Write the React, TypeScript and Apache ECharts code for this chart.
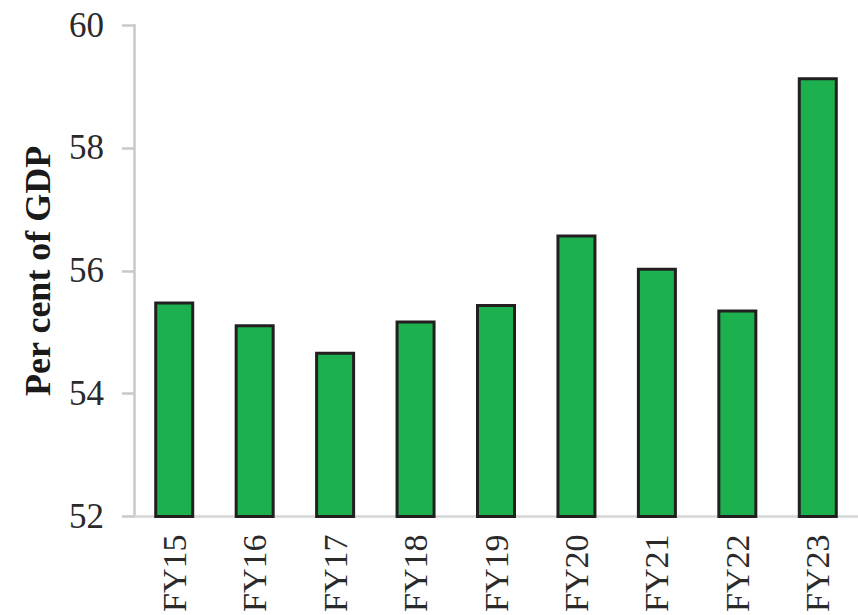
import React, { useEffect, useRef } from "react";
import * as echarts from "echarts";

const categories: string[] = ["FY15", "FY16", "FY17", "FY18", "FY19", "FY20", "FY21", "FY22", "FY23"];
const values: number[] = [55.5, 55.13, 54.68, 55.19, 55.46, 56.59, 56.05, 55.37, 59.15];
const yAxisName = "Per cent of GDP";
const yMin = 52;
const yMax = 60;
const yInterval = 2;

const FONT = '"Liberation Serif", "Times New Roman", serif';

export default function App() {
  const ref = useRef<HTMLDivElement>(null);

  useEffect(() => {
    if (!ref.current) return;
    const chart = echarts.init(ref.current, undefined, { renderer: "svg" });
    chart.setOption({
      animation: false,
      backgroundColor: "#ffffff",
      grid: { left: 134, right: 0, top: 25, bottom: 96, containLabel: false },
      xAxis: {
        type: "category",
        data: categories,
        boundaryGap: true,
        axisLine: { show: true, lineStyle: { color: "#d6d6d6", width: 2.5 } },
        axisTick: { show: false },
        axisLabel: {
          rotate: 90,
          margin: 18,
          fontFamily: FONT,
          fontSize: 34,
          color: "#2a2a2a",
        },
      },
      yAxis: {
        type: "value",
        min: yMin,
        max: yMax,
        interval: yInterval,
        name: yAxisName,
        nameLocation: "middle",
        nameGap: 78,
        nameRotate: 90,
        nameTextStyle: {
          fontFamily: FONT,
          fontSize: 36,
          fontWeight: "bold",
          color: "#1a1a1a",
        },
        axisLine: { show: true, lineStyle: { color: "#c8c8c8", width: 2.5 } },
        axisTick: { show: true, length: 12, lineStyle: { color: "#c8c8c8", width: 2.5 } },
        splitLine: { show: false },
        axisLabel: {
          margin: 30,
          fontFamily: FONT,
          fontSize: 35,
          color: "#2a2a2a",
        },
      },
      series: [
        {
          type: "bar",
          data: values,
          barWidth: 40,
          itemStyle: {
            color: "#1db04e",
            borderColor: "#231f20",
            borderWidth: 3,
          },
        },
      ],
    });
    return () => {
      chart.dispose();
    };
  }, []);

  return (
    <div
      ref={ref}
      style={{ position: "absolute", left: 0, top: 0, width: 858, height: 615 }}
    />
  );
}
